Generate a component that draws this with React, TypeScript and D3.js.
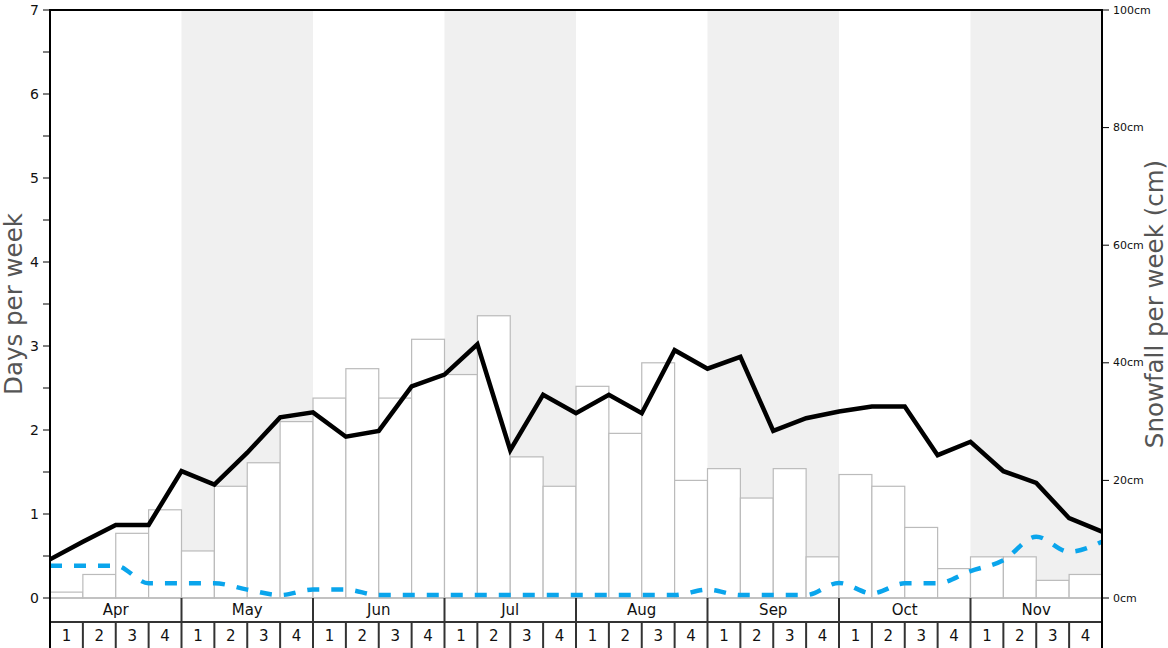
import React from "react";
import * as d3 from "d3";

const months = ["Apr", "May", "Jun", "Jul", "Aug", "Sep", "Oct", "Nov"];
const weekLabels = ["1", "2", "3", "4"];
const shadedMonths = ["May", "Jul", "Sep", "Nov"];

// Snowfall per week (cm), one bar per week (32 weeks)
const snowfallCm = [
  1, 4, 11, 15,
  8, 19, 23, 30,
  34, 39, 34, 44,
  38, 48, 24, 19,
  36, 28, 40, 20,
  22, 17, 22, 7,
  21, 19, 12, 5,
  7, 7, 3, 4,
];

// Days per week (black line), at week boundaries (33 points)
const snowDays = [
  0.46, 0.67, 0.87, 0.87,
  1.51, 1.35, 1.73, 2.15,
  2.21, 1.92, 1.99, 2.52,
  2.66, 3.02, 1.76, 2.42,
  2.2, 2.42, 2.2, 2.95,
  2.73, 2.87, 1.99, 2.14,
  2.22, 2.28, 2.28, 1.7,
  1.86, 1.51, 1.37, 0.95,
  0.79,
];

// Days per week (blue dashed line), at week boundaries (33 points)
const otherDays = [
  0.385, 0.385, 0.385, 0.175,
  0.175, 0.175, 0.1, 0.035,
  0.1, 0.1, 0.035, 0.035,
  0.035, 0.035, 0.035, 0.035,
  0.035, 0.035, 0.035, 0.035,
  0.1, 0.035, 0.035, 0.035,
  0.18, 0.055, 0.175, 0.175,
  0.32, 0.45, 0.73, 0.55,
  0.67,
];

const leftTicks = [0, 1, 2, 3, 4, 5, 6, 7];
const leftMinor = [0.5, 1.5, 2.5, 3.5, 4.5, 5.5, 6.5];
const rightTicks = [0, 20, 40, 60, 80, 100];

const W = 1168;
const H = 648;
const L = 50;
const R = 1102;
const T = 10;
const B = 598;

export default function App() {
  const nWeeks = months.length * 4;
  const x = d3.scaleLinear().domain([0, nWeeks]).range([L, R]);
  const yL = d3.scaleLinear().domain([0, 7]).range([B, T]);
  const yR = d3.scaleLinear().domain([0, 100]).range([B, T]);

  const blackLine = d3
    .line<number>()
    .x((_, i) => x(i))
    .y((d) => yL(d))
    .curve(d3.curveLinear)(snowDays) as string;

  const blueLine = d3
    .line<number>()
    .x((_, i) => x(i))
    .y((d) => yL(d))
    .curve(d3.curveMonotoneX)(otherDays) as string;

  const tickFont = "DejaVu Sans, sans-serif";
  const titleFont = "DejaVu Sans, sans-serif";

  return (
    <div style={{ position: "absolute", left: 0, top: 0 }}>
      <svg width={W} height={H} style={{ display: "block" }}>
        <rect x={0} y={0} width={W} height={H} fill="#fff" />
        {/* shading */}
        {months.map((m, mi) =>
          shadedMonths.includes(m) ? (
            <rect
              key={"sh" + m}
              x={x(mi * 4)}
              y={T}
              width={x(mi * 4 + 4) - x(mi * 4)}
              height={B - T}
              fill="#f0f0f0"
            />
          ) : null
        )}
        {/* bars */}
        {snowfallCm.map((v, i) => (
          <rect
            key={"b" + i}
            x={x(i)}
            y={yR(v)}
            width={x(i + 1) - x(i)}
            height={B - yR(v)}
            fill="#fff"
            stroke="#bbb"
            strokeWidth={1.2}
          />
        ))}
        {/* baseline */}
        <line x1={L} x2={R} y1={B} y2={B} stroke="#bbb" strokeWidth={1.5} />
        {/* lines */}
        <path
          d={blueLine}
          fill="none"
          stroke="#0aa5ec"
          strokeWidth={4.5}
          strokeDasharray="12,12"
        />
        <path d={blackLine} fill="none" stroke="#000" strokeWidth={4.5} strokeLinejoin="miter" />

        {/* bottom month / week rows */}
        <line x1={L} x2={R} y1={622} y2={622} stroke="#333" strokeWidth={2} />
        {months.map((m, mi) => (
          <g key={"m" + m}>
            {mi > 0 && (
              <line x1={x(mi * 4)} x2={x(mi * 4)} y1={B} y2={622} stroke="#333" strokeWidth={2} />
            )}
            <text
              x={(x(mi * 4) + x(mi * 4 + 4)) / 2}
              y={610}
              textAnchor="middle"
              dominantBaseline="central"
              fontFamily={tickFont}
              fontSize={15}
              fill="#111"
            >
              {m}
            </text>
          </g>
        ))}
        {d3.range(nWeeks).map((i) => (
          <g key={"w" + i}>
            {i > 0 && (
              <line x1={x(i)} x2={x(i)} y1={622} y2={H} stroke="#333" strokeWidth={2} />
            )}
            <text
              x={(x(i) + x(i + 1)) / 2}
              y={636}
              textAnchor="middle"
              dominantBaseline="central"
              fontFamily={tickFont}
              fontSize={15}
              fill="#111"
            >
              {weekLabels[i % 4]}
            </text>
          </g>
        ))}

        {/* frame */}
        <line x1={L} x2={R} y1={T} y2={T} stroke="#000" strokeWidth={2} />
        <line x1={L} x2={L} y1={T - 1} y2={H} stroke="#000" strokeWidth={2} />
        <line x1={R} x2={R} y1={T - 1} y2={H} stroke="#000" strokeWidth={2} />

        {/* left axis ticks */}
        {leftTicks.map((t) => (
          <g key={"lt" + t}>
            <line x1={L - 7} x2={L} y1={yL(t)} y2={yL(t)} stroke="#000" strokeWidth={1} />
            <text
              x={L - 11}
              y={yL(t)}
              textAnchor="end"
              dominantBaseline="central"
              fontFamily={tickFont}
              fontSize={14}
              fill="#111"
            >
              {t}
            </text>
          </g>
        ))}
        {leftMinor.map((t) => (
          <line key={"lm" + t} x1={L - 7} x2={L} y1={yL(t)} y2={yL(t)} stroke="#000" strokeWidth={1} />
        ))}

        {/* right axis ticks */}
        {rightTicks.map((t) => (
          <g key={"rt" + t}>
            <line x1={R} x2={R + 7} y1={yR(t)} y2={yR(t)} stroke="#000" strokeWidth={1} />
            <text
              x={R + 11}
              y={yR(t)}
              textAnchor="start"
              dominantBaseline="central"
              fontFamily={tickFont}
              fontSize={11}
              fill="#111"
            >
              {t + "cm"}
            </text>
          </g>
        ))}

        {/* axis titles */}
        <text
          transform={`translate(22, 304) rotate(-90)`}
          textAnchor="middle"
          fontFamily={titleFont}
          fontSize={24.5}
          fill="#555"
        >
          Days per week
        </text>
        <text
          transform={`translate(1163, 304) rotate(-90)`}
          textAnchor="middle"
          fontFamily={titleFont}
          fontSize={24.5}
          fill="#555"
        >
          Snowfall per week (cm)
        </text>
      </svg>
    </div>
  );
}
